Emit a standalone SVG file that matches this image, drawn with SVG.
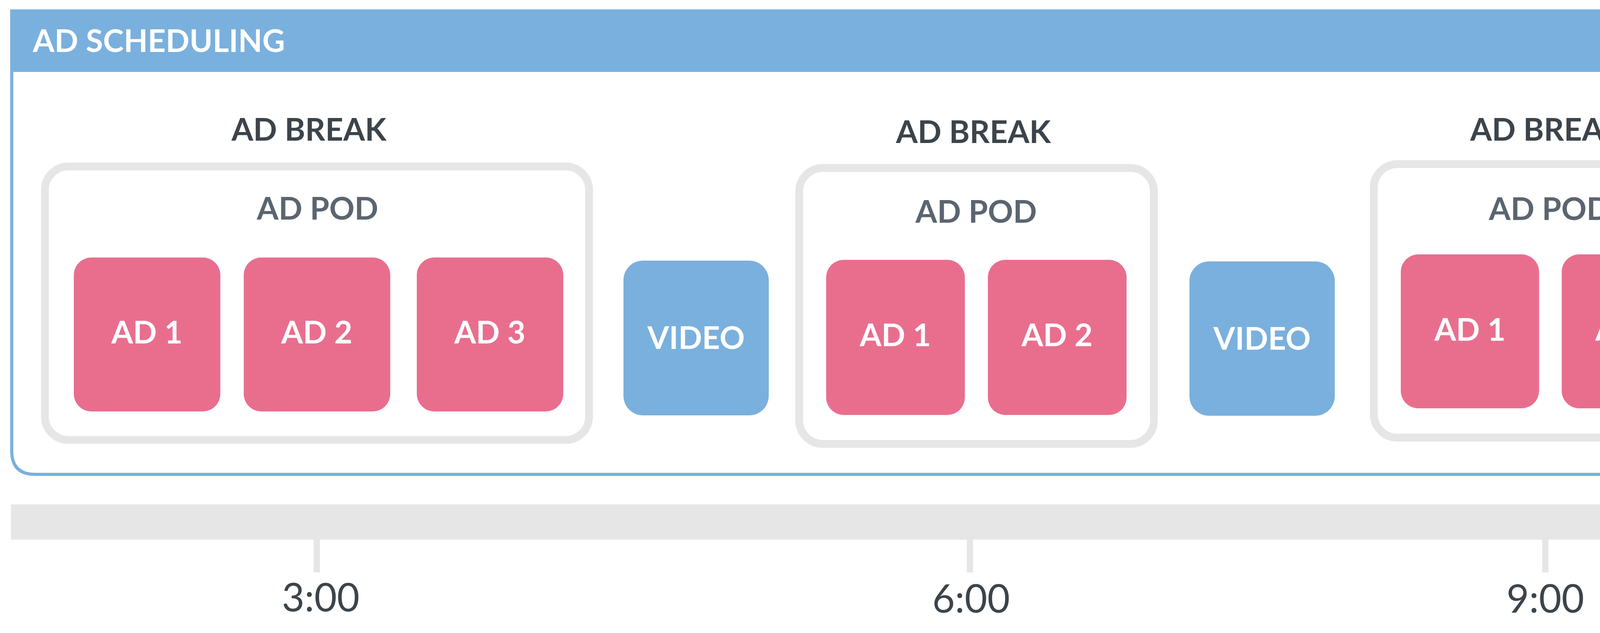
<svg xmlns="http://www.w3.org/2000/svg" width="4540" height="1620" viewBox="0 0 4540 1620">
<style>
.t{font-family:Lato,"Liberation Sans",sans-serif;font-weight:bold;font-size:80px;text-anchor:middle}
.w{fill:#ffffff}
.brk{fill:#3c444b}
.pod{fill:#5b6570}
.ad{fill:#e96e8e}
.vid{fill:#7ab0dd}
.podbox{fill:#ffffff;stroke:#e6e6e6;stroke-width:20}
.tm{font-family:Lato,"Liberation Sans",sans-serif;font-size:100px;fill:#3c444b;text-anchor:middle}
</style>
<rect width="4540" height="1620" fill="#ffffff"/>
<g id="frame">
<path d="M30 28 H4478 Q4508 28 4508 58 V1154 Q4508 1214 4448 1214 H90 Q30 1214 30 1154 Z" fill="#ffffff" stroke="#7ab0dd" stroke-width="8"/>
<path d="M26 24 H4478 Q4512 24 4512 58 V184 H26 Z" fill="#7ab0dd"/>
<text x="84" y="133" class="t w" style="text-anchor:start">AD SCHEDULING</text>
</g>
<g id="break1">
<text x="791" y="360" class="t brk">AD BREAK</text>
<rect x="115" y="426" width="1393" height="700" rx="60" class="podbox"/>
<text x="813" y="562" class="t pod">AD POD</text>
<g id="b1ad1"><rect x="189" y="659" width="375" height="394" rx="45" class="ad"/><text x="376" y="879" class="t w">AD 1</text></g>
<g id="b1ad2"><rect x="624" y="659" width="375" height="394" rx="45" class="ad"/><text x="811" y="879" class="t w">AD 2</text></g>
<g id="b1ad3"><rect x="1067" y="659" width="375" height="394" rx="45" class="ad"/><text x="1254" y="879" class="t w">AD 3</text></g>
</g>
<g id="video1"><rect x="1596" y="667" width="372" height="396" rx="50" class="vid"/><text x="1782" y="893" class="t w">VIDEO</text></g>
<g id="break2">
<text x="2492" y="366" class="t brk">AD BREAK</text>
<rect x="2046" y="430" width="908" height="706" rx="60" class="podbox"/>
<text x="2499" y="570" class="t pod">AD POD</text>
<g id="b2ad1"><rect x="2115" y="665" width="355" height="397" rx="45" class="ad"/><text x="2292" y="886" class="t w">AD 1</text></g>
<g id="b2ad2"><rect x="2529" y="665" width="355" height="397" rx="45" class="ad"/><text x="2706" y="886" class="t w">AD 2</text></g>
</g>
<g id="video2"><rect x="3045" y="669" width="372" height="395" rx="50" class="vid"/><text x="3231" y="895" class="t w">VIDEO</text></g>
<g id="break3">
<text x="3962" y="360" class="t brk">AD BREAK</text>
<rect x="3517" y="420" width="908" height="700" rx="60" class="podbox"/>
<text x="3967" y="563" class="t pod">AD POD</text>
<g id="b3ad1"><rect x="3586" y="651" width="354" height="394" rx="45" class="ad"/><text x="3763" y="872" class="t w">AD 1</text></g>
<g id="b3ad2"><rect x="3998" y="651" width="354" height="394" rx="45" class="ad"/><text x="4175" y="872" class="t w">AD 2</text></g>
</g>
<g id="timeline">
<rect x="28" y="1291" width="4484" height="90" fill="#e6e6e6"/>
<rect x="803" y="1381" width="16" height="84" fill="#e6e6e6"/>
<rect x="2475" y="1381" width="16" height="84" fill="#e6e6e6"/>
<rect x="3948" y="1381" width="16" height="84" fill="#e6e6e6"/>
<text x="821" y="1565" class="tm">3:00</text>
<text x="2486" y="1568" class="tm">6:00</text>
<text x="3956" y="1568" class="tm">9:00</text>
</g>
</svg>
